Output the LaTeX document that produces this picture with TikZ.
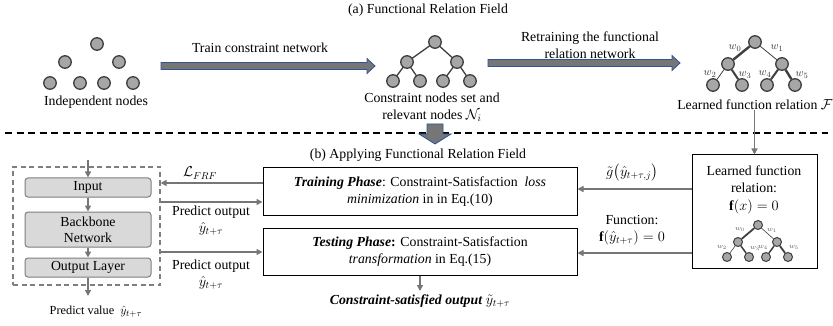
\documentclass[tikz,border=0pt]{standalone}
\usepackage{fontspec}
\setmainfont{Liberation Serif}
\usepackage{amsmath}
\usetikzlibrary{arrows.meta,calc}
\definecolor{circfill}{HTML}{A6A6A6}
\definecolor{circdraw}{HTML}{3F3F3F}
\definecolor{conngray}{HTML}{767676}
\definecolor{blkfill}{HTML}{D9D9D9}
\definecolor{blkdraw}{HTML}{7F7F7F}
\definecolor{arrfill}{HTML}{767676}
\definecolor{arrblue}{HTML}{2F5597}
\newcommand\fsz{\fontsize{13.8pt}{17pt}\selectfont}
\newcommand\fss{\fontsize{12.3pt}{15pt}\selectfont}
\tikzset{
  every node/.style={font=\fsz, inner sep=0pt, align=center},
  circ/.style={circle, draw=circdraw, fill=circfill, line width=1.3pt, minimum size=12.5pt},
  scirc/.style={circle, draw=circdraw, fill=circfill, line width=1pt, minimum size=9pt},
  tedge/.style={draw=circdraw, line width=1.3pt},
  conn/.style={draw=conngray, line width=1.4pt, -{Triangle[length=6pt,width=6pt]}},
  grayblk/.style={draw=blkdraw, fill=blkfill, rounded corners=3pt, line width=1pt, minimum width=126pt},
  phase/.style={draw=black, line width=1pt, minimum width=314pt, minimum height=47pt},
  blockarrow/.style={fill=arrfill, draw=arrblue, line width=0.8pt},
  wlab/.style={font=\fontsize{11pt}{12pt}\selectfont, text=black!80},
  swlab/.style={font=\fontsize{7pt}{8pt}\selectfont, text=black!65},
}
\begin{document}
\begin{tikzpicture}[x=1pt,y=-1pt]
\useasboundingbox (0,0) rectangle (833,326);
\fill[white] (0,0) rectangle (833,326);

% ---------- (a) ----------
\node (titleA) at (428,10) {(a) Functional Relation Field};

% independent nodes
\node[circ] (i1) at (97,44) {};
\node[circ] (i2) at (65,62) {};
\node[circ] (i3) at (119,62) {};
\node[circ] (i4) at (50,83) {};
\node[circ] (i5) at (80,83) {};
\node[circ] (i6) at (104,83) {};
\node[circ] (i7) at (133,83) {};
\node (indlab) at (96,102) {Independent nodes};

% arrow 1
\draw[blockarrow] (161,62.5) -- (367,62.5) -- (367,58.5) -- (375,66) -- (367,73.5) -- (367,69.5) -- (161,69.5) -- cycle;
\node (trainlab) at (260,48) {Train constraint network};

% constraint tree
\draw[tedge] (435,42) -- (407,62) -- (393,81);
\draw[tedge] (407,62) -- (420,81);
\draw[tedge] (435,42) -- (457,62) -- (443,81);
\draw[tedge] (457,62) -- (470,81);
\node[circ] (c0) at (435,42) {};
\node[circ] (c1) at (407,62) {};
\node[circ] (c2) at (457,62) {};
\node[circ] (c3) at (393,81) {};
\node[circ] (c4) at (420,81) {};
\node[circ] (c5) at (443,81) {};
\node[circ] (c6) at (470,81) {};
\node (conlab) at (432,107) {Constraint nodes set and\\relevant nodes $\mathcal{N}_i$};

% arrow 2
\draw[blockarrow] (488,59.5) -- (672,59.5) -- (672,55.5) -- (680,63) -- (672,70.5) -- (672,66.5) -- (488,66.5) -- cycle;
\node (retlab) at (590,45) {Retraining the functional\\relation network};

% learned tree
\node[circ] (l0) at (755,42) {};
\node[circ] (l1) at (728,64) {};
\node[circ] (l2) at (782,64) {};
\node[circ] (l3) at (713,85) {};
\node[circ] (l4) at (742,85) {};
\node[circ] (l5) at (767,85) {};
\node[circ] (l6) at (795,85) {};
\draw[tedge, line width=2.4pt] (l0) -- (l1);
\draw[tedge, line width=0.8pt] (l0) -- (l2);
\draw[tedge, line width=0.8pt] (l1) -- (l3);
\draw[tedge, line width=2pt] (l1) -- (l4);
\draw[tedge, line width=2pt] (l2) -- (l5);
\draw[tedge, line width=2.4pt] (l2) -- (l6);
\node[wlab] (w0) at (735,48) {$w_0$};
\node[wlab] (w1) at (777,48) {$w_1$};
\node[wlab] (w2) at (710,74) {$w_2$};
\node[wlab] (w3) at (745,75) {$w_3$};
\node[wlab] (w4) at (765,74) {$w_4$};
\node[wlab] (w5) at (802,75) {$w_5$};
\node (Flab) at (755,105) {Learned function relation $\mathcal{F}$};

% separator
\draw[line width=1.5pt, dash pattern=on 7pt off 4.5pt] (5,133) -- (828,133);

% down block arrow
\draw[blockarrow] (427,124) -- (443,124) -- (443,134) -- (451,134) -- (435,144) -- (419,134) -- (427,134) -- cycle;

% ---------- (b) ----------
\node (titleB) at (418,155) {(b) Applying Functional Relation Field};

% backbone box
\node[draw=blkdraw, line width=1.2pt, dash pattern=on 5pt off 3.5pt, minimum width=147pt, minimum height=118pt] (bb) at (86.5,226) {};
\node[grayblk, minimum height=19pt] (inp) at (88,187.5) {Input};
\node[grayblk, minimum height=35pt] (bbn) at (88,229.5) {Backbone\\[-1pt]Network};
\node[grayblk, minimum height=19pt] (outl) at (88,267.5) {Output Layer};
\coordinate (intop) at (88,160);
\draw[conn] (intop) -- (inp.north);
\draw[conn] (inp.south) -- (bbn.north);
\draw[conn] (bbn.south) -- (outl.north);
\node[font=\fss] (pv) at (96,312) {Predict value~ $\hat{y}_{t+\tau}$};
\draw[conn] (outl.south) -- (88,296);

% phase boxes
\node[phase] (train) at (420,191.5) {\textbf{\textit{Training Phase}}: Constraint-Satisfaction~ \textit{loss}\\\textit{minimization} in in Eq.(10)};
\node[phase] (test) at (420,251.5) {\textbf{\textit{Testing Phase}}\textbf{:} Constraint-Satisfaction\\\textit{transformation} in Eq.(15)};

% learned function box
\node[draw=black, line width=1pt, minimum width=125pt, minimum height=113pt] (lf) at (754.5,211.5) {};
\node (lft) at (754,190) {Learned function\\relation:\\[1pt]$\mathbf{f}(x)=0$};
\node[scirc] (s0) at (758,225) {};
\node[scirc] (s1) at (738,242) {};
\node[scirc] (s2) at (777,242) {};
\node[scirc] (s3) at (727,257) {};
\node[scirc] (s4) at (749,257) {};
\node[scirc] (s5) at (766,257) {};
\node[scirc] (s6) at (788,257) {};
\draw[tedge, line width=1.8pt] (s0) -- (s1);
\draw[tedge, line width=0.6pt] (s0) -- (s2);
\draw[tedge, line width=0.6pt] (s1) -- (s3);
\draw[tedge, line width=1.5pt] (s1) -- (s4);
\draw[tedge, line width=1.5pt] (s2) -- (s5);
\draw[tedge, line width=1.8pt] (s2) -- (s6);
\node[swlab] (sw0) at (740,229) {$w_0$};
\node[swlab] (sw1) at (772,230) {$w_1$};
\node[swlab] (sw2) at (722,247) {$w_2$};
\node[swlab] (sw3) at (755,248) {$w_3$};
\node[swlab] (sw4) at (763,247) {$w_4$};
\node[swlab] (sw5) at (794,247) {$w_5$};

% connectors
\draw[conn] (Flab.south -| lf.north) -- (lf.north);
\draw[conn] (train.west |- 0,183) -- (bb.east |- 0,183);
\node (Llab) at (200,173) {$\mathcal{L}_{FRF}$};
\draw[conn] (bb.east |- 0,202) -- (train.west |- 0,202);
\node (po1) at (211,221) {Predict output\\$\hat{y}_{t+\tau}$};
\draw[conn] (bb.east |- 0,252) -- (test.west |- 0,252);
\node (po2) at (211,275) {Predict output\\$\hat{y}_{t+\tau}$};
\draw[conn] (lf.west |- 0,189) -- (train.east |- 0,189);
\node (glab) at (632,173) {$\tilde{g}\big(\hat{y}_{t+\tau,j}\big)$};
\draw[conn] (lf.west |- 0,253) -- (test.east |- 0,253);
\node (fnlab) at (632,230) {Function:\\$\mathbf{f}(\hat{y}_{t+\tau})=0$};
\node (csout) at (420,301) {\textbf{\textit{Constraint-satisfied output}}~$\tilde{y}_{t+\tau}$};
\draw[conn] (test.south) -- (test.south |- 0,291);
\end{tikzpicture}
\end{document}
